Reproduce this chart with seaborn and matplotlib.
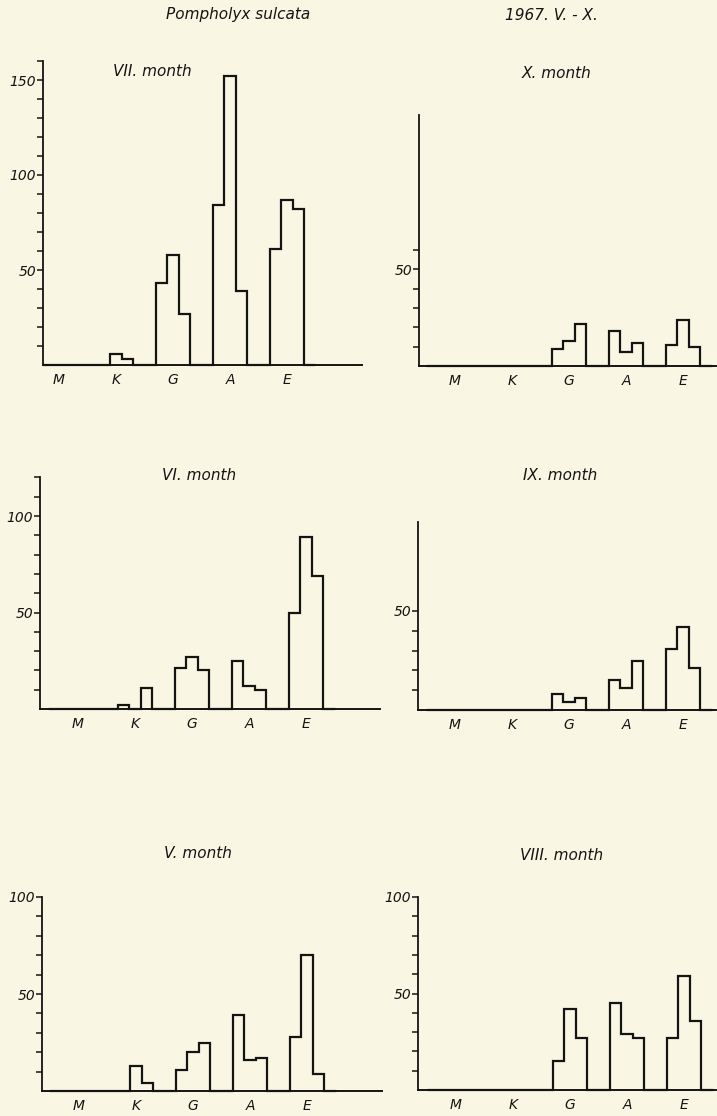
import numpy as np
import pandas as pd
import matplotlib
matplotlib.use("Agg")
import matplotlib.pyplot as plt
from matplotlib.transforms import Bbox, TransformedBbox
import seaborn as sns

# ---- data ----
stations = ["M", "K", "G", "A", "E"]
layers = [-0.2, 0.0, 0.2]          # three sub-samples per station
# values listed station by station (M, K, G, A, E), three layers each
month_vii = [0, 0, 0, 0, 6, 3, 43, 58, 27, 84, 152, 39, 61, 87, 82]
month_x = [0, 0, 0, 0, 0, 0, 9, 13, 22, 18, 7, 12, 11, 24, 10]
month_vi = [0, 0, 0, 2, 0, 11, 21, 27, 20, 25, 12, 10, 50, 89, 69]
month_ix = [0, 0, 0, 0, 0, 0, 8, 4, 6, 15, 11, 25, 31, 42, 21]
month_v = [0, 0, 0, 0, 13, 4, 11, 20, 25, 39, 16, 17, 28, 70, 9]
month_viii = [0, 0, 0, 0, 0, 0, 15, 42, 27, 45, 29, 27, 27, 59, 36]

titles = ["VII. month", "X. month", "VI. month", "IX. month", "V. month", "VIII. month"]
series = [month_vii, month_x, month_vi, month_ix, month_v, month_viii]
y_tops = [160, 130, 120, 95, 100, 100]
tick_tops = [160, 60, 120, 50, 100, 100]
labelled = [[50, 100, 150], [50], [50, 100], [50], [50, 100], [50, 100]]

# ---- layout (pixels) ----
W, H = 717, 1116
BG = "#f9f6e3"
INK = "#141414"
# (left, right, baseline, px per unit, px from spine to G centre)
layout = [
    (43, 362, 365, 1.90, 130),
    (419, 717, 366, 1.93, 150),
    (40, 380, 709, 1.93, 152),
    (418, 717, 710, 1.98, 151),
    (42, 382, 1091, 1.94, 151),
    (418, 717, 1090, 1.93, 152),
]
title_pos = [(152, 72), (557, 73), (199, 475), (560, 476), (198, 853), (562, 855)]

sns.set_style("ticks")
plt.rcParams["font.family"] = ["DejaVu Sans"]
plt.rcParams["font.style"] = "italic"
plt.rcParams["text.color"] = INK
plt.rcParams["xtick.color"] = INK
plt.rcParams["ytick.color"] = INK

fig = plt.figure(figsize=(W / 100, H / 100), dpi=100, facecolor=BG)

edges = [float(e) for e in np.linspace(-0.5, 4.5, 26)]
px_per_station = 57.0

for i, vals in enumerate(series):
    left, right, base, ppu, goff = layout[i]
    ytop = y_tops[i]
    h = ytop * ppu
    ax = fig.add_axes([left / W, 1 - base / H, (right - left) / W, h / H])
    ax.set_facecolor("none")

    xs = [s + off for s in range(len(stations)) for off in layers]
    df = pd.DataFrame({"pos": xs, "count": [float(v) for v in vals]})
    sns.histplot(data=df, x="pos", weights="count", bins=edges,
                 element="step", fill=False, color=INK,
                 linewidth=1.6, ax=ax)
    clipbox = TransformedBbox(Bbox([[0, -0.05], [1, 1.05]]), ax.transAxes)
    for ln in ax.lines:
        ln.set_clip_box(clipbox)
        ln.set_solid_joinstyle("miter")

    x0 = 2 - goff / px_per_station
    x1 = x0 + (right - left) / px_per_station
    ax.set_xlim(x0, x1)
    ax.set_ylim(0, ytop)

    ticks = list(range(10, tick_tops[i] + 1, 10))
    ax.set_yticks(ticks)
    ax.set_yticklabels([str(t) if t in labelled[i] else "" for t in ticks])
    ax.set_xticks(range(len(stations)))
    ax.set_xticklabels(stations)
    ax.set_xlabel("")
    ax.set_ylabel("")

    for sp in ["top", "right"]:
        ax.spines[sp].set_visible(False)
    ax.spines["left"].set_linewidth(1.3)
    ax.spines["bottom"].set_linewidth(1.4)
    ax.spines["left"].set_color(INK)
    ax.spines["bottom"].set_color(INK)

    ax.tick_params(axis="y", direction="out", length=4, width=1.1,
                   color=INK, labelsize=10, pad=1, labelcolor=INK)
    ax.tick_params(axis="x", length=0, labelsize=10, pad=6, labelcolor=INK)
    for lab in ax.get_xticklabels() + ax.get_yticklabels():
        lab.set_fontstyle("italic")

    tx, ty = title_pos[i]
    fig.text(tx / W, 1 - ty / H, titles[i], ha="center", va="center",
             fontsize=11, fontstyle="italic", color=INK)

fig.text(238 / W, 1 - 15 / H, "Pompholyx sulcata", ha="center", va="center",
         fontsize=11, fontstyle="italic", color=INK)
fig.text(551 / W, 1 - 15 / H, "1967. V. - X.", ha="center", va="center",
         fontsize=11, fontstyle="italic", color=INK)

fig.savefig("out.png", dpi=100, facecolor=BG)
